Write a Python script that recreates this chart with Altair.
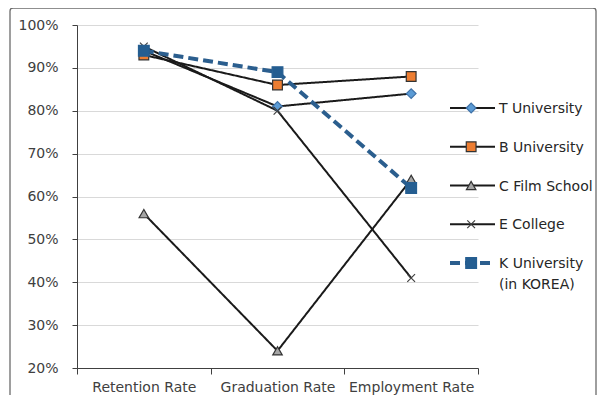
import altair as alt
import pandas as pd

categories = ["Retention Rate", "Graduation Rate", "Employment Rate"]
series = ["T University", "B University", "C Film School", "E College", "K University"]
legend_labels = ["T University", "B University", "C Film School", "E College",
                 "K University\n(in KOREA)"]

t_univ = [94, 81, 84]
b_univ = [93, 86, 88]
c_film = [56, 24, 64]
e_college = [95, 80, 41]
k_univ = [94, 89, 62]

line_colors = ["#1a1a1a", "#1a1a1a", "#1a1a1a", "#1a1a1a", "#2b5e8e"]
line_widths = [2, 2, 2, 2, 4]
line_dashes = [[1, 0], [1, 0], [1, 0], [1, 0], [10, 5]]
marker_shapes = ["diamond", "square", "triangle-up", "M-1,-1L1,1M1,-1L-1,1", "square"]
marker_fills = ["#5b9bd5", "#ed7d31", "#a5a5a5", "#404040", "#255e91"]
marker_strokes = ["#3f72a8", "#333333", "#333333", "#404040", "#255e91"]
marker_sizes = [95, 95, 90, 60, 115]

rows = []
for s, vals in zip(series, [t_univ, b_univ, c_film, e_college, k_univ]):
    for c, v in zip(categories, vals):
        rows.append({"series": s, "category": c, "value": v})
df = pd.DataFrame(rows)

leg = pd.DataFrame({"series": series, "label": legend_labels,
                    "x0": [0] * 5, "x1": [1] * 5, "xm": [0.47] * 5})

color_s = alt.Color("series:N", scale=alt.Scale(domain=series, range=line_colors), legend=None)
dash_s = alt.StrokeDash("series:N", scale=alt.Scale(domain=series, range=line_dashes), legend=None)
width_s = alt.StrokeWidth("series:N", scale=alt.Scale(type="ordinal", domain=series, range=line_widths), legend=None)
shape_s = alt.Shape("series:N", scale=alt.Scale(domain=series, range=marker_shapes), legend=None)
fill_s = alt.Fill("series:N", scale=alt.Scale(domain=series, range=marker_fills), legend=None)
stroke_s = alt.Stroke("series:N", scale=alt.Scale(domain=series, range=marker_strokes), legend=None)
size_s = alt.Size("series:N", scale=alt.Scale(type="ordinal", domain=series, range=marker_sizes), legend=None)

x_enc = alt.X("category:N", sort=categories,
              scale=alt.Scale(type="band", domain=categories, paddingInner=0, paddingOuter=0),
              axis=alt.Axis(title=None, tickBand="extent", grid=False, tickSize=6,
                            labelPadding=6, domainColor="#404040", tickColor="#404040",
                            labelAngle=0))
y_enc = alt.Y("value:Q", scale=alt.Scale(domain=[20, 100], nice=False, zero=False),
              axis=alt.Axis(title=None, values=list(range(20, 101, 10)),
                            labelExpr="datum.value + '%'", grid=True, gridColor="#d9d9d9",
                            tickSize=5, labelPadding=14, domainColor="#404040",
                            tickColor="#404040"))

base = alt.Chart(df)
lines = base.mark_line().encode(x=x_enc, y=y_enc, color=color_s, strokeDash=dash_s,
                                strokeWidth=width_s, detail="series:N")
points = base.mark_point(filled=True, opacity=1, strokeWidth=1.2).encode(
    x=x_enc, y=y_enc, shape=shape_s, fill=fill_s, stroke=stroke_s, size=size_s)
main = alt.layer(lines, points)

lx = alt.Scale(domain=[0, 1], range=[373, 418])
ly = alt.Scale(type="point", domain=series, range=[83, 238], padding=0)
lbase = alt.Chart(leg)
leg_lines = lbase.mark_rule().encode(
    x=alt.X("x0:Q", scale=lx, axis=None), x2="x1:Q",
    y=alt.Y("series:N", scale=ly, axis=None),
    color=color_s, strokeDash=dash_s, strokeWidth=width_s)
leg_points = lbase.mark_point(filled=True, opacity=1, strokeWidth=1.2).encode(
    x=alt.X("xm:Q", scale=lx, axis=None), y=alt.Y("series:N", scale=ly, axis=None),
    shape=shape_s, fill=fill_s, stroke=stroke_s, size=size_s)
leg_text = lbase.mark_text(align="left", baseline="alphabetic", dx=4, dy=5, fontSize=14,
                           font="DejaVu Sans", color="#262626", lineBreak="\n",
                           lineHeight=21).encode(
    x=alt.X("x1:Q", scale=lx, axis=None), y=alt.Y("series:N", scale=ly, axis=None),
    text="label:N")
legend = alt.layer(leg_lines, leg_points, leg_text)

frame = alt.Chart(pd.DataFrame({"a": [0]})).mark_rect(
    fillOpacity=0, stroke="#6b6b6b", strokeWidth=1.3, cornerRadius=3).encode(
    x=alt.value(-67), x2=alt.value(519), y=alt.value(-17), y2=alt.value(400))

chart = alt.layer(frame, main, legend).resolve_scale(x="independent", y="independent").properties(
    width=401, height=343,
    autosize=alt.AutoSizeParams(type="none"),
    padding={"left": 69, "top": 17, "right": 119, "bottom": 27},
).configure_axis(labelFont="DejaVu Sans", labelFontSize=14, labelColor="#404040"
).configure_view(stroke=None)

chart.save("out.html", embed_options={"renderer": "svg", "actions": False})
